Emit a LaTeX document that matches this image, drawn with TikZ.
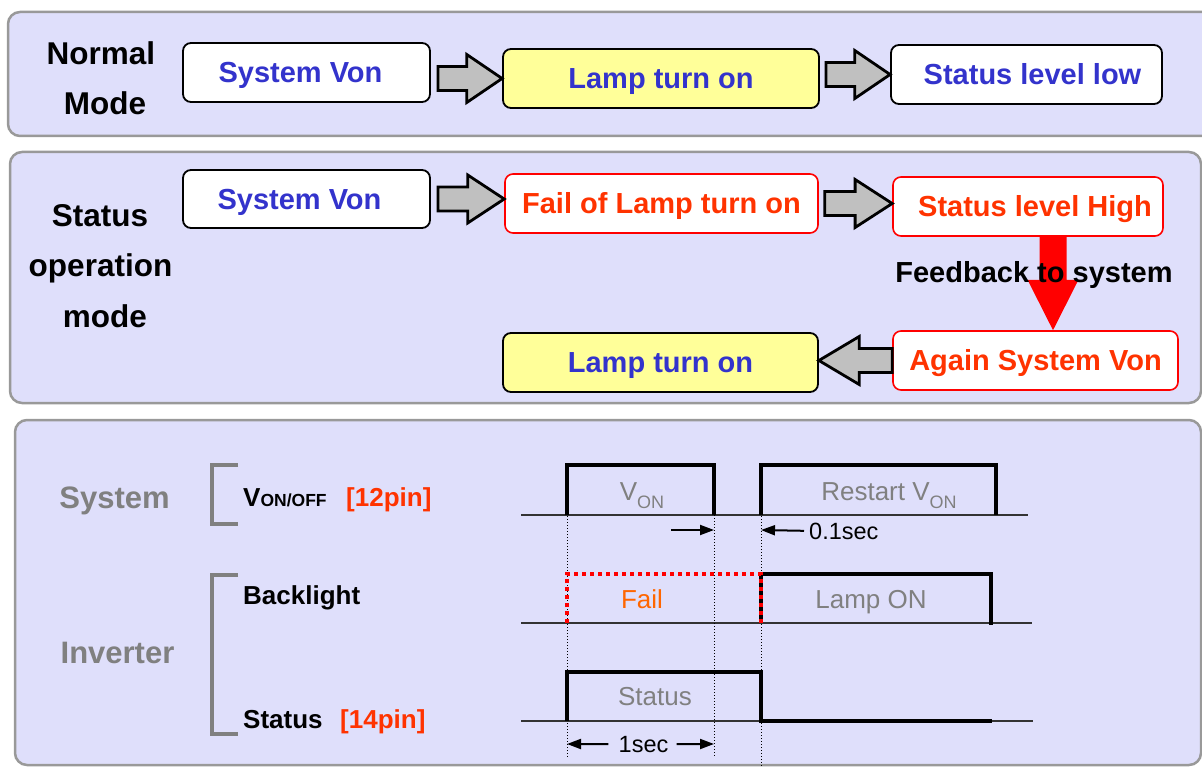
\documentclass[tikz,border=0pt]{standalone}
\usepackage{fontspec}
\setmainfont{Liberation Sans}
\usetikzlibrary{calc}
\usetikzlibrary{arrows.meta}
\definecolor{panelfill}{RGB}{223,223,251}
\definecolor{panelline}{RGB}{153,153,153}
\definecolor{boxblue}{RGB}{51,51,204}
\definecolor{redtext}{RGB}{255,51,0}
\definecolor{lampyellow}{RGB}{255,255,153}
\definecolor{arrowgray}{RGB}{192,192,192}
\definecolor{labelgray}{RGB}{128,128,128}
\definecolor{failorange}{RGB}{255,102,0}
\newcommand{\fatarrow}[2]{\draw[fatarrow] ($(#1)+(0,-12)$) -- ($(#1)!0.45!(#2)+(0,-12)$) -- ($(#1)!0.45!(#2)+(0,-24)$) -- (#2) -- ($(#1)!0.45!(#2)+(0,24)$) -- ($(#1)!0.45!(#2)+(0,12)$) -- ($(#1)+(0,12)$) -- cycle;}
\tikzset{
  panel/.style={draw=panelline, line width=2.5pt, fill=panelfill, rounded corners=12pt},
  flowbox/.style={draw, line width=1.8pt, rounded corners=8pt, fill=white, minimum height=59pt, inner sep=0pt,
    text=boxblue, font=\bfseries\fontsize{29}{32}\selectfont, text height=20.8pt, text depth=0pt},
  lampbox/.style={flowbox, fill=lampyellow},
  failbox/.style={flowbox, draw=red, line width=1.6pt, text=redtext},
  fatarrow/.style={draw=black, line width=2.8pt, fill=arrowgray, line join=miter},
  modetext/.style={font=\bfseries\fontsize{31.5}{34}\selectfont, anchor=base, inner sep=0pt},
  sidetext/.style={modetext, text=labelgray, font=\bfseries\fontsize{31}{34}\selectfont},
  pintext/.style={font=\bfseries\fontsize{26}{28}\selectfont, anchor=base west, inner sep=0pt},
  pinred/.style={pintext, text=redtext},
  pinbracket/.style={draw=labelgray, line width=3.5pt},
  axisline/.style={draw=black!80, line width=1.4pt},
  guideline/.style={draw=black, line width=1pt, dotted},
  sigline/.style={draw=black, line width=4pt},
  failline/.style={draw=red, line width=4pt, dash pattern=on 4pt off 4pt},
  wavetext/.style={text=labelgray, font=\fontsize{26}{28}\selectfont, anchor=base, inner sep=0pt},
  timetext/.style={font=\fontsize{23.5}{26}\selectfont, anchor=base, inner sep=0pt},
  timearrow/.style={draw=black, line width=2pt, -{Triangle[length=14pt,width=10pt]}}
}
\begin{document}
\begin{tikzpicture}[x=1pt, y=-1pt]
    \useasboundingbox (0,0) rectangle (1202,767);
    % panels
    \draw[panel] (8,12) rectangle (1225,136);
    \draw[panel] (10,152) rectangle (1201,403);
    \draw[panel] (15,420) rectangle (1201,765);
    % normal mode
    \node[modetext] (normal1) at (101,65) {Normal};
    \node[modetext] (normal2) at (105,115) {Mode};
    \node[flowbox, minimum width=247pt] (normvon) at (306.5,72.5) {System Von\hspace*{12pt}};
    \node[lampbox, minimum width=316pt] (normlamp) at (661,78.5) {Lamp turn on};
    \node[flowbox, minimum width=271pt] (normlow) at (1026.5,74.5) {\hspace*{12pt}Status level low};
    \coordinate (n1) at ($(normvon.east |- normlamp.west)+(7,0)$);
    \coordinate (n2) at ($(normlamp.east |- normlow.west)+(6,0)$);
    \fatarrow{n1}{normlamp.west}
    \fatarrow{n2}{normlow.west}
    % status operation mode
    \node[modetext] (status1) at (100,227) {Status};
    \node[modetext] (status2) at (100.5,277) {operation};
    \node[modetext] (status3) at (105,327) {mode};
    \node[flowbox, minimum width=247pt, minimum height=58pt] (statvon) at (306.5,199) {System Von\hspace*{14pt}};
    \node[failbox, minimum width=313pt] (statfail) at (661.5,203.5) {Fail of Lamp turn on};
    \node[failbox, minimum width=270pt] (stathigh) at (1028,206.5) {\hspace*{14pt}Status level High};
    \node[failbox, minimum width=285pt] (againvon) at (1035.5,360.5) {Again System Von};
    \node[lampbox, minimum width=315pt] (againlamp) at (660.5,362.5) {Lamp turn on};
    \coordinate (s1) at ($(statvon.east)+(7,0)$);
    \coordinate (s2) at ($(statfail.east)+(6,0)$);
    \fatarrow{s1}{statfail.west |- statvon.east}
    \fatarrow{s2}{stathigh.west |- statfail.east}
    \coordinate (s3) at (againvon.west);
    \fatarrow{s3}{againlamp.east |- againvon.west}
    % feedback
    \coordinate (fbtop) at ($(stathigh.south)+(25,0)$);
    \coordinate (fbtip) at (fbtop |- againvon.north);
    \fill[red] ($(fbtop)+(-13.5,0)$) -- ($(fbtop)!0.46!(fbtip)+(-13.5,0)$) -- ($(fbtop)!0.46!(fbtip)+(-25.5,0)$) -- (fbtip)
        -- ($(fbtop)!0.46!(fbtip)+(25.5,0)$) -- ($(fbtop)!0.46!(fbtip)+(13.5,0)$) -- ($(fbtop)+(13.5,0)$) -- cycle;
    \node[modetext, font=\bfseries\fontsize{29}{32}\selectfont] (feedback) at (1034,283) {Feedback to system};
    % timing chart labels
    \node[sidetext] (sysname) at (114.5,508) {System};
    \node[sidetext] (invname) at (117.5,663) {Inverter};
    \draw[pinbracket] (238,465) -- (212,465) -- (212,524) -- (238,524);
    \draw[pinbracket] (238,575) -- (212,575) -- (212,734) -- (238,734);
    \node[pintext] (vonoff) at (243,506) {V{\fontsize{17.5}{18}\selectfont ON/OFF}};
    \node[pinred] (pin12) at (346,506) {[12pin]};
    \node[pintext] (backl) at (243,604) {Backlight};
    \node[pintext] (statl) at (243,728) {Status};
    \node[pinred] (pin14) at (340,728) {[14pin]};
    % axes and guides
    \draw[axisline] (521,515) -- (1028,515);
    \draw[axisline] (521,623) -- (1032,623);
    \draw[axisline] (521,721) -- (1033,721);
    \draw[guideline] (567,465) -- (567,757);
    \draw[guideline] (714,515) -- (714,757);
    \draw[guideline] (761,465) -- (761,767);
    % waves
    \draw[sigline] (567,515) -- (567,465) -- (714,465) -- (714,515);
    \draw[sigline] (761,515) -- (761,465) -- (996,465) -- (996,515);
    \draw[sigline] (761,623) -- (761,574) -- (991,574) -- (991,625);
    \draw[failline] (567,623) -- (567,574) -- (761,574) -- (761,623);
    \draw[sigline] (567,721) -- (567,672) -- (761,672) -- (761,721) -- (992,721);
    \node[wavetext] (vonlbl) at (642,500) {V\raisebox{-8pt}{\fontsize{18}{18}\selectfont ON}};
    \node[wavetext] (restartlbl) at (889,500) {Restart V\raisebox{-8pt}{\fontsize{18}{18}\selectfont ON}};
    \node[wavetext, text=failorange] (faillbl) at (642,608) {Fail};
    \node[wavetext] (lamplbl) at (871,608) {Lamp ON};
    \node[wavetext] (statuslbl) at (655,705) {Status};
    % time marks
    \node[timetext, anchor=base west] (tenth) at (809,539) {0.1sec};
    \node[timetext] (onesec) at (643.5,752) {1sec};
    \coordinate (gapin) at (671,530);
    \coordinate (gapfall) at (714,530);
    \coordinate (gaprise) at (761,530);
    \coordinate (secstart) at (567,744);
    \coordinate (secend) at (714,744);
    \draw[timearrow] (gapin) -- (gapfall);
    \draw[timearrow, shorten <=5pt] (tenth.west) -- (gaprise);
    \draw[timearrow, shorten <=10pt] (onesec.west) -- (secstart);
    \draw[timearrow, shorten <=8pt] (onesec.east) -- (secend);
\end{tikzpicture}
\end{document}
